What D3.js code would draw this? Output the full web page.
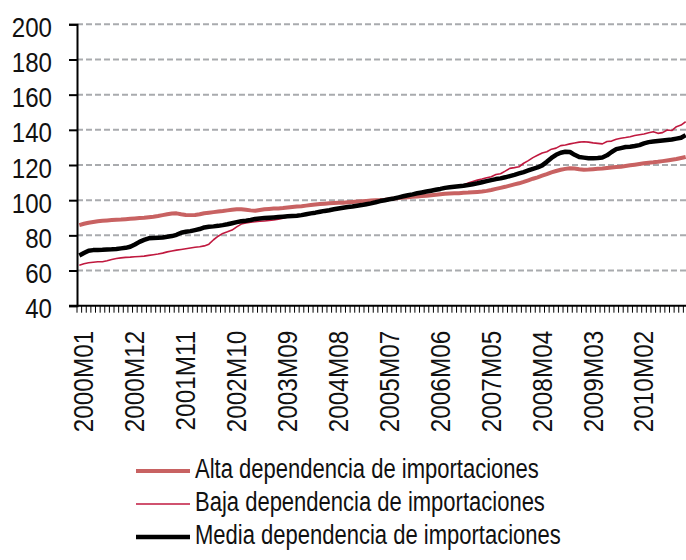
<!DOCTYPE html>
<html>
  <head>
    <meta charset="UTF-8" />
    <script src="https://cdn.jsdelivr.net/npm/d3@7"></script>
    <title>Dependencia de importaciones</title>
    <style type="text/css">
      body { margin: 0; background: #fff; }
      text { font-family: "Liberation Sans Narrow", "Arial Narrow", "Liberation Sans", sans-serif; fill: #111; }
    </style>
  </head>
  <body>
    <div id="chartcontainer"></div>
    <script>
      // month categories 2000M01 .. 2010M12
      var months = [];
      for (var yr = 2000; yr <= 2010; yr++) {
        for (var m = 1; m <= 12; m++) {
          months.push(yr + "M" + (m < 10 ? "0" + m : m));
        }
      }
      var tickLabels = ["2000M01", "2000M12", "2001M11", "2002M10", "2003M09", "2004M08",
        "2005M07", "2006M06", "2007M05", "2008M04", "2009M03", "2010M02"];
      var yTicks = [40, 60, 80, 100, 120, 140, 160, 180, 200];

      var alta = [
        85.8, 86.6, 87.2, 87.6, 88.0, 88.3, 88.5, 88.7, 88.9, 89.0, 89.2, 89.4,
        89.6, 89.8, 90.0, 90.3, 90.6, 91.0, 91.5, 92.0, 92.4, 92.5, 92.0, 91.6,
        91.5, 91.6, 92.0, 92.6, 92.9, 93.2, 93.5, 93.8, 94.2, 94.6, 94.9, 94.9,
        94.6, 94.2, 94.0, 94.4, 94.8, 95.0, 95.2, 95.3, 95.5, 95.8, 96.1, 96.4,
        96.6, 96.9, 97.2, 97.5, 97.8, 98.0, 98.2, 98.4, 98.5, 98.6, 98.8, 99.0,
        99.2, 99.4, 99.6, 99.8, 100.0, 100.1, 100.3, 100.6, 100.9, 101.2, 101.5, 101.7,
        101.9, 102.1, 102.3, 102.5, 102.8, 103.1, 103.4, 103.6, 103.8, 103.9, 104.0, 104.2,
        104.3, 104.5, 104.7, 104.9, 105.3, 105.8, 106.4, 107.0, 107.6, 108.3, 109.0, 109.6,
        110.4, 111.3, 112.2, 113.0, 113.9, 114.8, 115.8, 116.6, 117.3, 117.8, 118.2, 118.0,
        117.6, 117.3, 117.4, 117.6, 117.8, 118.0, 118.3, 118.6, 118.8, 119.0, 119.4, 119.8,
        120.2, 120.6, 121.0, 121.3, 121.5, 121.8, 122.2, 122.6, 123.0, 123.4, 124.0, 124.6
      ];
      var baja = [
        63.0, 63.8, 64.4, 64.7, 65.0, 65.0, 65.6, 66.3, 66.8, 67.2, 67.5, 67.6,
        67.8, 68.0, 68.2, 68.6, 69.0, 69.4, 69.9, 70.6, 71.1, 71.6, 72.0, 72.4,
        72.8, 73.2, 73.5, 74.0, 75.0, 77.5, 79.5, 81.1, 82.0, 83.0, 84.8, 86.4,
        87.0, 87.5, 87.7, 88.0, 88.2, 88.4, 88.7, 89.2, 89.8, 90.4, 90.8, 91.2,
        91.6, 92.0, 92.5, 93.0, 93.4, 93.9, 94.4, 94.8, 95.3, 95.7, 96.1, 96.5,
        96.9, 97.4, 97.9, 98.2, 98.7, 99.3, 99.9, 100.4, 101.0, 101.5, 102.0, 102.6,
        103.1, 103.6, 104.1, 104.6, 105.1, 105.7, 106.3, 106.8, 107.6, 108.2, 108.0, 108.6,
        109.8, 110.6, 111.4, 112.0, 112.8, 113.3, 114.6, 115.0, 116.5, 118.1, 118.5, 119.0,
        121.0, 122.5, 124.2, 125.5, 126.8, 127.5, 129.0, 129.6, 131.0, 131.4, 132.0, 132.5,
        133.0, 133.2, 133.0, 132.6, 132.3, 132.0, 133.4, 133.6, 134.6, 135.2, 135.6, 136.1,
        136.8, 137.2, 137.6, 138.3, 138.9, 138.0, 138.4, 139.9, 139.6, 141.8, 142.7, 144.6
      ];
      var media = [
        68.6, 70.0, 71.3, 71.6, 71.7, 71.8, 72.0, 72.1, 72.3, 72.6, 72.9, 73.5,
        74.8, 76.3, 77.4, 78.3, 78.5, 78.7, 78.8, 79.2, 79.6, 80.3, 81.5, 82.0,
        82.4, 83.0, 83.6, 84.5, 84.9, 85.1, 85.4, 85.8, 86.3, 86.9, 87.5, 88.0,
        88.3, 88.7, 89.3, 89.6, 89.8, 90.0, 90.2, 90.4, 90.6, 90.8, 91.0, 91.2,
        91.5, 92.0, 92.5, 92.9, 93.4, 93.9, 94.3, 94.8, 95.3, 95.7, 96.1, 96.4,
        96.8, 97.2, 97.7, 98.2, 98.8, 99.5, 100.0, 100.5, 101.0, 101.6, 102.2, 102.8,
        103.3, 103.9, 104.4, 104.9, 105.4, 105.9, 106.4, 107.0, 107.3, 107.6, 107.9, 108.2,
        108.6, 109.1, 109.6, 110.2, 110.8, 111.4, 112.0, 112.4, 113.0, 113.7, 114.4, 115.2,
        116.0, 116.9, 117.8, 118.6, 119.8, 121.8, 124.0, 125.8, 127.0, 127.5, 127.4, 125.8,
        124.5, 124.2, 123.9, 123.8, 124.0, 124.3, 125.5, 127.4, 129.0, 129.6, 130.2, 130.4,
        130.8, 131.3, 132.3, 133.0, 133.3, 133.6, 133.9, 134.2, 134.5, 135.0, 135.5, 137.0
      ];

      var series = [
        { name: "Alta dependencia de importaciones", values: alta, color: "#c86262", width: 4 },
        { name: "Baja dependencia de importaciones", values: baja, color: "#c0193f", width: 1.6 },
        { name: "Media dependencia de importaciones", values: media, color: "#000000", width: 4.5 }
      ];

      var W = 686, H = 560;
      var margin = { left: 77, top: 24.3, bottom: 305.7, right: 688 };

      // squeeze text to a narrow face, whatever font was picked
      function narrow(sel, k) {
        sel.each(function () {
          var len = this.getComputedTextLength();
          d3.select(this)
            .attr("textLength", len * k)
            .attr("lengthAdjust", "spacingAndGlyphs");
        });
      }

      var svg = d3.select("#chartcontainer").append("svg")
        .attr("width", W).attr("height", H);

      var x = d3.scaleBand().domain(months).range([margin.left, margin.right]);
      var y = d3.scaleLinear().domain([40, 200]).range([margin.bottom, margin.top]);

      // dashed gridlines
      svg.append("g").selectAll("line")
        .data(yTicks.filter(function (d) { return d > 40; }))
        .join("line")
        .attr("x1", margin.left).attr("x2", W)
        .attr("y1", function (d) { return y(d); })
        .attr("y2", function (d) { return y(d); })
        .attr("stroke", "#a9abae")
        .attr("stroke-width", 2)
        .attr("stroke-dasharray", "6,3");

      // y axis
      var yAxis = svg.append("g")
        .attr("transform", "translate(" + margin.left + ",0)")
        .call(d3.axisLeft(y).tickValues(yTicks).tickSize(8).tickPadding(17));
      yAxis.select(".domain").attr("stroke", "#000").attr("stroke-width", 2);
      yAxis.selectAll(".tick line").attr("stroke", "#000").attr("stroke-width", 2);
      yAxis.selectAll(".tick text")
        .attr("font-size", 28).attr("dy", "0.43em").attr("fill", "#111")
        .style("font-family", "'Liberation Sans Narrow', 'Arial Narrow', 'Liberation Sans', sans-serif")
        .call(narrow, 0.86);

      // x axis: a small tick for every month
      var xAxis = svg.append("g")
        .attr("transform", "translate(0," + margin.bottom + ")");
      xAxis.selectAll("line.mt")
        .data(months)
        .join("line")
        .attr("class", "mt")
        .attr("x1", function (d) { return x(d); })
        .attr("x2", function (d) { return x(d); })
        .attr("y1", 0).attr("y2", 7)
        .attr("stroke", "#000").attr("stroke-width", 1);
      xAxis.append("line")
        .attr("x1", margin.left - 8).attr("x2", W)
        .attr("y1", 0).attr("y2", 0)
        .attr("stroke", "#000").attr("stroke-width", 2);

      xAxis.selectAll("text.xl")
        .data(tickLabels)
        .join("text")
        .attr("class", "xl")
        .attr("transform", function (d) {
          return "translate(" + (x(d) + x.bandwidth() / 2 + 4) + ",25) rotate(-90)";
        })
        .attr("text-anchor", "end")
        .attr("dy", "0.36em")
        .attr("font-size", 28)
        .text(function (d) { return d; })
        .call(narrow, 0.87);

      // lines
      var line = d3.line()
        .x(function (d, i) { return x(months[i]) + x.bandwidth() / 2; })
        .y(function (d) { return y(d); });

      svg.append("g").selectAll("path")
        .data(series)
        .join("path")
        .attr("fill", "none")
        .attr("stroke", function (d) { return d.color; })
        .attr("stroke-width", function (d) { return d.width; })
        .attr("stroke-linejoin", "round")
        .attr("d", function (d) { return line(d.values); });

      // legend
      var legend = svg.append("g").selectAll("g")
        .data(series)
        .join("g")
        .attr("transform", function (d, i) { return "translate(0," + (471 + i * 33) + ")"; });
      legend.append("line")
        .attr("x1", 136).attr("x2", 190)
        .attr("stroke", function (d) { return d.color; })
        .attr("stroke-width", function (d) { return d.width; });
      legend.append("text")
        .attr("x", 195).attr("y", 7)
        .attr("font-size", 27)
        .text(function (d) { return d.name; })
        .call(narrow, 0.815);
    </script>
  </body>
</html>
